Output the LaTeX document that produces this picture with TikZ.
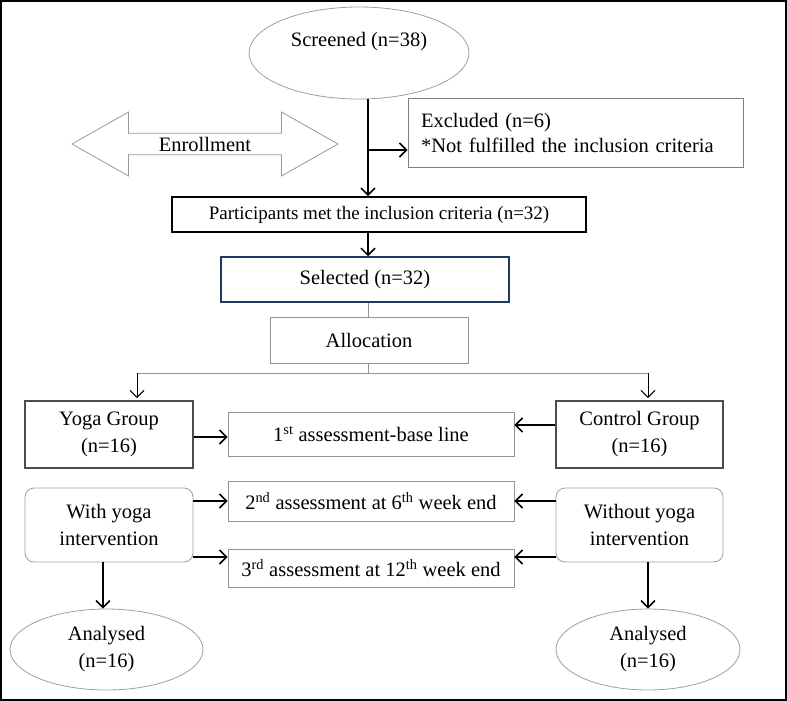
\documentclass[tikz,border=0pt]{standalone}
\usepackage{fontspec}
\setmainfont{Liberation Serif}
\usetikzlibrary{positioning, arrows.meta, shapes.geometric, shapes.arrows}
\definecolor{navy}{RGB}{32,56,100}

\begin{document}
\begin{tikzpicture}[x=1pt, y=-1pt,
    >={Straight Barb[length=7pt,width=14pt]},
    txt/.style={font=\fontsize{20.5}{27}\selectfont},
    oval/.style={ellipse, draw=gray!75, line width=0.8pt, txt, align=center, inner sep=0pt},
    graybox/.style={rectangle, draw=gray!85, line width=0.9pt, txt, align=center, inner sep=0pt},
    boldbox/.style={rectangle, draw=black!70, line width=1.8pt, txt, align=center, inner sep=0pt},
    softbox/.style={rectangle, rounded corners=9pt, draw=gray!75, line width=0.8pt, txt, align=center, inner sep=0pt},
    flow/.style={->, line width=1.5pt},
    stem/.style={gray!85, line width=0.9pt}]
    \useasboundingbox (0,0) rectangle (787,701);
    \draw[line width=2pt] (1,1) rectangle (786,700);

    \node[oval, minimum width=220pt, minimum height=92pt](scr) at (359,53) {Screened (n=38)\\ \mbox{}};
    \node[double arrow, draw=gray!80, line width=0.8pt, txt, double arrow head extend=15pt, double arrow tip angle=59, minimum height=266pt, minimum width=64pt, inner sep=0pt](enr) at (205,144) {Enrollment};
    \node[graybox, draw=gray, align=left, text width=309pt, inner xsep=13pt, minimum height=69pt, font=\fontsize{20.5}{25}\selectfont](exc) at (575.5,132.5) {Excluded (n=6)\\[0pt]\mbox{*}Not fulfilled the inclusion criteria};
    \node[boldbox, draw=black, minimum width=414pt, minimum height=35pt, font=\fontsize{19}{24}\selectfont](part) at (379,214.5) {Participants met the inclusion criteria (n=32)};
    \node[boldbox, draw=navy, line width=1.5pt, minimum width=288pt, minimum height=45pt](sel) at (365,279.5) {Selected (n=32)};
    \node[graybox, minimum width=198pt, minimum height=46pt](alc) at (369,340) {Allocation};

    \node[boldbox, minimum width=168pt, minimum height=67pt](yg) at (109,434.5) {Yoga Group\\(n=16)};
    \node[boldbox, minimum width=167pt, minimum height=67pt](ctl) at (639.5,434.5) {Control Group\\(n=16)};
    \node[graybox, minimum width=286pt, minimum height=44pt](as1) at (371,434) {1\textsuperscript{st} assessment-base line};
    \node[graybox, minimum width=286pt, minimum height=40pt](as2) at (371,501) {2\textsuperscript{nd} assessment at 6\textsuperscript{th} week end};
    \node[graybox, minimum width=286pt, minimum height=38pt](as3) at (371,568) {3\textsuperscript{rd} assessment at 12\textsuperscript{th} week end};
    \node[softbox, minimum width=168pt, minimum height=74pt](wy) at (109,525) {With yoga\\intervention};
    \node[softbox, minimum width=167pt, minimum height=74pt](wo) at (639.5,525) {Without yoga\\intervention};
    \node[oval, minimum width=193pt, minimum height=81pt](an1) at (106.5,649.5) {Analysed\\(n=16)};
    \node[oval, minimum width=184pt, minimum height=81pt](an2) at (648,649.5) {Analysed\\(n=16)};

    \coordinate (spine) at (368,0);
    \coordinate (brn) at (368,150);
    \coordinate (split) at (368,373);
    \coordinate (lft) at (137,373);
    \coordinate (rgt) at (648,373);
    \coordinate (la) at (103,0);

    \draw[flow] (scr.south -| spine) -- (part.north -| spine);
    \draw[flow] (brn) -- (brn -| exc.west);
    \draw[flow] (part.south -| spine) -- (sel.north -| spine);
    \draw[stem] (sel.south -| spine) -- (alc.north -| spine);
    \draw[stem] (alc.south -| spine) -- (split);
    \draw[stem] (lft) -- (rgt);
    \draw[->, line width=1pt, shorten >=2pt] (lft) -- (lft |- yg.north);
    \draw[->, line width=1pt, shorten >=2pt] (rgt) -- (rgt |- ctl.north);

    \draw[flow] ([yshift=-2.5pt]yg.east) -- ([yshift=-2.5pt]yg.east -| as1.west);
    \draw[flow] ([yshift=9.5pt]ctl.west) -- ([yshift=9.5pt]ctl.west -| as1.east);
    \draw[flow] (wy.east |- as2.west) -- (as2.west);
    \draw[flow] (wo.west |- as2.east) -- (as2.east);
    \draw[flow] ([yshift=11pt]as3.west -| wy.east) -- ([yshift=11pt]as3.west);
    \draw[flow] ([yshift=11pt]as3.east -| wo.west) -- ([yshift=11pt]as3.east);
    \draw[flow] (wy.south -| la) -- (an1.north -| la);
    \draw[flow] (wo.south -| rgt) -- (an2.north);
\end{tikzpicture}
\end{document}
